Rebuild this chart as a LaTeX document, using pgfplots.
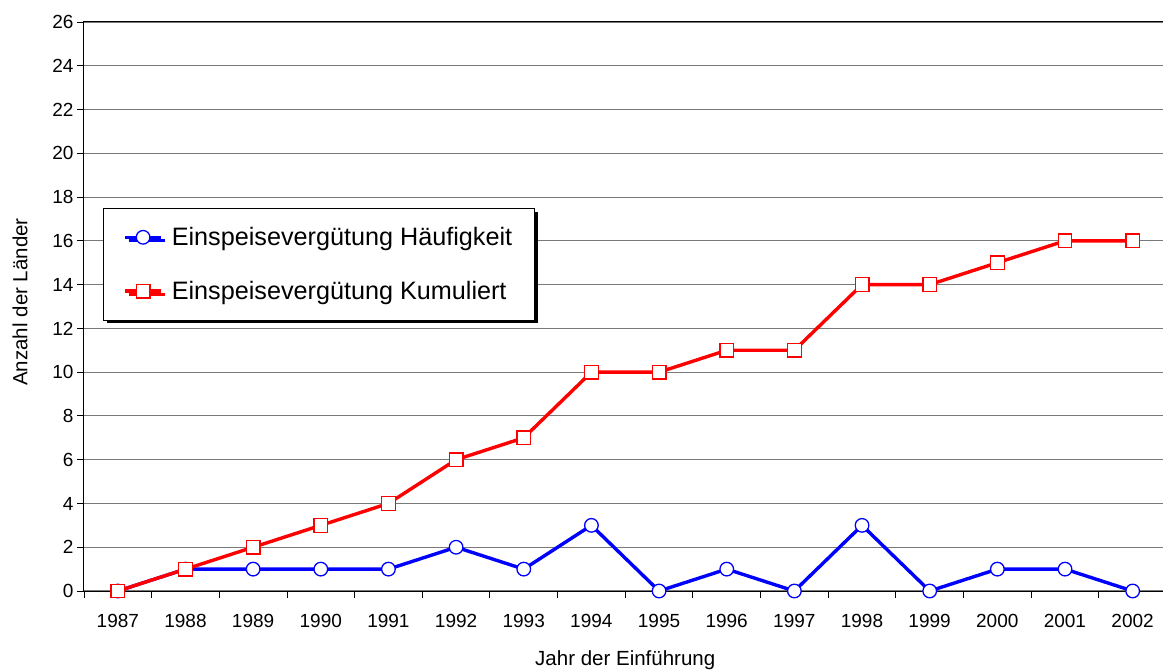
\documentclass[border=0pt]{standalone}
\usepackage{pgfplots}
\pgfplotsset{compat=1.18}
\usepackage{fontspec}
\setmainfont{Liberation Sans}
\usetikzlibrary{shadows}
\begin{document}
\begin{tikzpicture}
\begin{axis}[
  scale only axis,
  width=1082.5pt, height=569pt,
  xmin=1986.5, xmax=2002.5,
  ymin=0, ymax=26,
  xtick={1987,...,2002},
  minor xtick={1986.5,1987.5,...,2002.5},
  ytick={0,2,...,26},
  xtick pos=bottom, ytick pos=left,
  major x tick style={draw=none},
  tick align=outside,
  major tick length=7pt,
  minor tick length=7pt,
  ymajorgrids,
  major y grid style={draw=gray!95!black, line width=1.1pt},
  axis line style={black, line width=1pt},
  every tick/.style={black, line width=0.9pt},
  /pgf/number format/assume math mode=true,
  /pgf/number format/1000 sep={},
  ticklabel style={font=\fontsize{19}{22}\selectfont},
  xticklabel style={yshift=-13pt},
  xlabel={Jahr der Einführung},
  ylabel={Anzahl der Länder},
  every axis x label/.style={at={(rel axis cs:0.5,0)}, yshift=-69pt, anchor=center, font=\fontsize{20.5}{24}\selectfont},
  every axis y label/.style={at={(rel axis cs:0,0.508)}, xshift=-64pt, rotate=90, anchor=center, font=\fontsize{20.5}{24}\selectfont},
  legend style={at={(rel axis cs:0.01755,0.6731)}, anchor=north west,
    draw=black, line width=0.8pt, fill=white,
    drop shadow={shadow xshift=3.5pt, shadow yshift=-3.5pt, fill=black, opacity=1},
    font=\fontsize{25.2}{30}\selectfont,
    inner xsep=20pt, inner ysep=17pt, row sep=30pt,
    /tikz/every even column/.append style={column sep=0pt},
    /tikz/every odd column/.append style={column sep=7pt}},
  legend cell align=left,
  legend image code/.code={\draw[mark repeat=2,mark phase=2] plot coordinates {(0pt,0pt) (18pt,0pt) (36pt,0pt)};},
  clip=false,
]
\coordinate (bl) at (rel axis cs:0,0);
\coordinate (tr) at (rel axis cs:1,1);
\addplot[blue, line width=3.4pt, mark=*, mark size=6.8pt, mark options={fill=white, draw=blue, line width=1.3pt}]
  coordinates {(1987,0) (1988,1) (1989,1) (1990,1) (1991,1) (1992,2) (1993,1) (1994,3) (1995,0) (1996,1) (1997,0) (1998,3) (1999,0) (2000,1) (2001,1) (2002,0)};
\addlegendentry{Einspeisevergütung Häufigkeit}
\addplot[red, line width=3.4pt, mark=square*, mark size=6.8pt, mark options={fill=white, draw=red, line width=1.3pt}]
  coordinates {(1987,0) (1988,1) (1989,2) (1990,3) (1991,4) (1992,6) (1993,7) (1994,10) (1995,10) (1996,11) (1997,11) (1998,14) (1999,14) (2000,15) (2001,16) (2002,16)};
\addlegendentry{Einspeisevergütung Kumuliert}
\end{axis}
\pgfresetboundingbox
\path[use as bounding box] ([xshift=-84pt,yshift=-79pt]bl) rectangle ([xshift=-3.5pt,yshift=22pt]tr);
\end{tikzpicture}
\end{document}
